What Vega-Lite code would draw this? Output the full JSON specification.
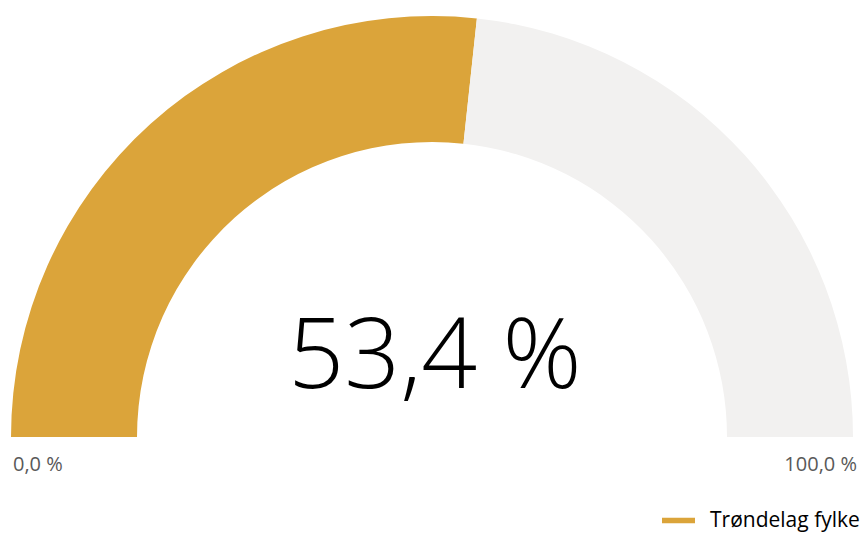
{
  "$schema": "https://vega.github.io/schema/vega-lite/v6.json",
  "width": 864,
  "height": 874,
  "padding": 0,
  "autosize": {"type": "none"},
  "background": "white",
  "config": {"view": {"stroke": null}, "font": "Open Sans"},
  "datasets": {
    "gauge": [
      {"category": "Trøndelag fylke", "value": 53.4, "ord": 1},
      {"category": "Resten", "value": 46.6, "ord": 2}
    ],
    "ends": [
      {"label": "0,0 %", "pos": 0, "side": "left"},
      {"label": "100,0 %", "pos": 100, "side": "right"}
    ],
    "center": [
      {"label": "53,4 %"}
    ]
  },
  "layer": [
    {
      "data": {"name": "gauge"},
      "mark": {"type": "arc", "outerRadius": 421, "innerRadius": 295},
      "encoding": {
        "theta": {
          "field": "value",
          "type": "quantitative",
          "stack": true,
          "scale": {"domain": [0, 100], "range": [-1.5708, 1.5708]}
        },
        "order": {"field": "ord", "type": "quantitative"},
        "color": {
          "field": "category",
          "type": "nominal",
          "scale": {"domain": ["Trøndelag fylke", "Resten"], "range": ["#DBA43A", "#F2F1F0"]},
          "legend": {
            "values": ["Trøndelag fylke"],
            "title": null,
            "orient": "none",
            "legendX": 662,
            "legendY": 504,
            "symbolType": "M-1,-0.16H1V0.16H-1Z",
            "symbolSize": 1089,
            "symbolStrokeWidth": 0,
            "labelFontSize": 21,
            "labelColor": "#000000",
            "labelFont": "Open Sans",
            "labelOffset": 15
          }
        }
      }
    },
    {
      "data": {"name": "ends"},
      "transform": [{"filter": "datum.side === 'left'"}],
      "mark": {"type": "text", "radius": 420, "align": "left", "baseline": "alphabetic", "dy": 34, "dx": 1, "fontSize": 20, "color": "#595959"},
      "encoding": {
        "theta": {"field": "pos", "type": "quantitative", "stack": null},
        "text": {"field": "label", "type": "nominal"}
      }
    },
    {
      "data": {"name": "ends"},
      "transform": [{"filter": "datum.side === 'right'"}],
      "mark": {"type": "text", "radius": 420, "align": "right", "baseline": "alphabetic", "dy": 34, "dx": 5, "fontSize": 20, "color": "#595959"},
      "encoding": {
        "theta": {"field": "pos", "type": "quantitative", "stack": null},
        "text": {"field": "label", "type": "nominal"}
      }
    },
    {
      "data": {"name": "center"},
      "mark": {"type": "text", "align": "center", "baseline": "alphabetic", "dy": -49, "dx": 3, "fontSize": 98, "fontWeight": 300, "color": "#000000"},
      "encoding": {
        "text": {"field": "label", "type": "nominal"}
      }
    }
  ]
}
